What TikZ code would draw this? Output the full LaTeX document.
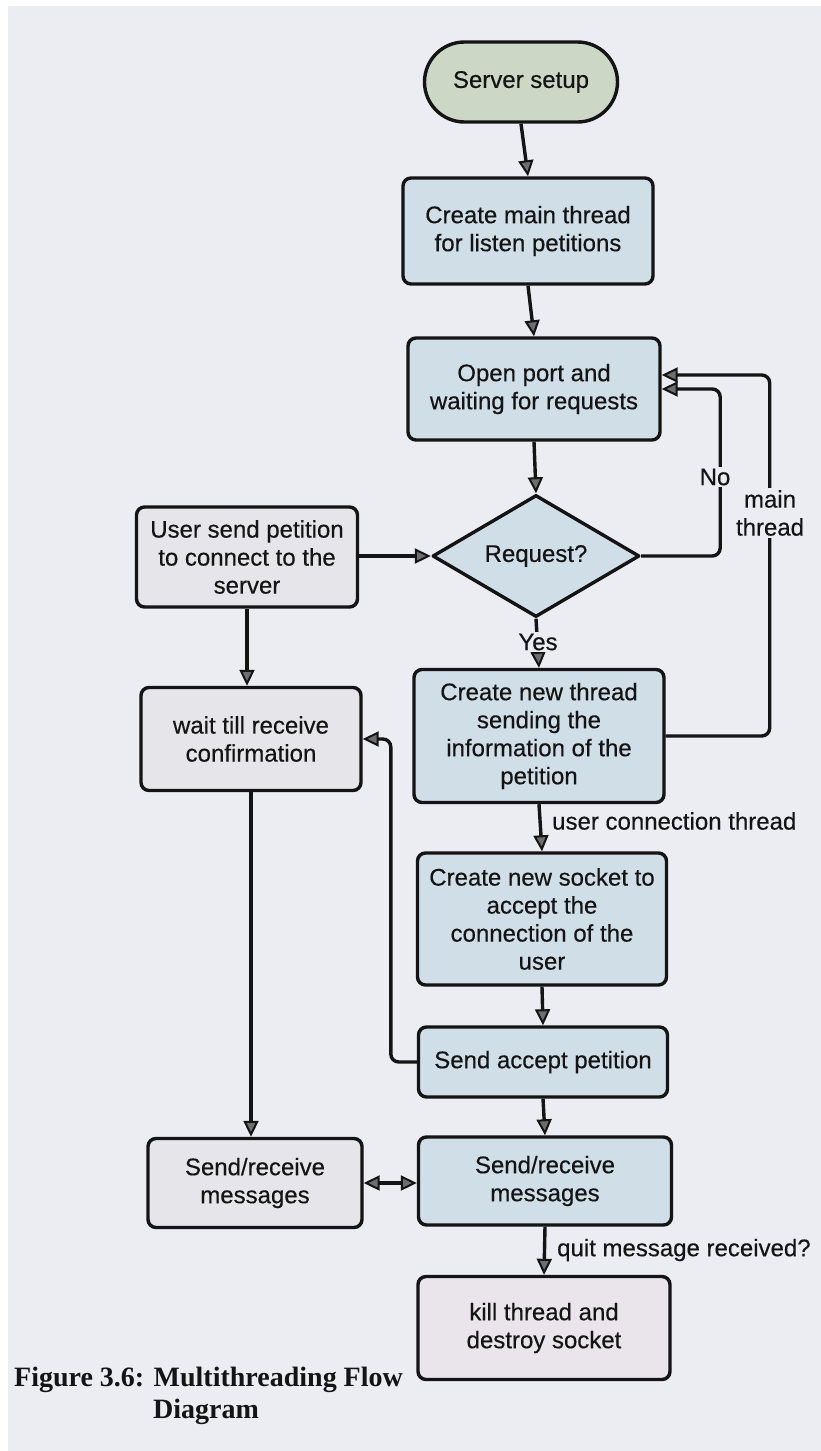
\documentclass[tikz,border=0pt]{standalone}
\usepackage{fontspec}
\setmainfont{Liberation Sans}
\newfontfamily\boxfont{Liberation Sans}[FakeBold=0.4]
\newfontfamily\capfont{Liberation Serif}
\usetikzlibrary{arrows.meta,shapes.geometric}

\definecolor{paper}{HTML}{ECEDF2}
\definecolor{ink}{HTML}{141414}
\definecolor{startfill}{HTML}{CDD7C6}
\definecolor{procfill}{HTML}{D0DEE8}
\definecolor{userfill}{HTML}{E6E6EA}
\definecolor{endfill}{HTML}{EAE5EA}
\definecolor{tipgray}{HTML}{6E6E6E}

\tikzset{
  txt/.style={font=\boxfont\fontsize{24}{28}\selectfont, text=ink},
  box/.style={txt, draw=ink, line width=3.4pt, rounded corners=8pt, align=center,
              inner sep=0pt, line join=round},
  startbox/.style={box, fill=startfill, rounded corners=40pt},
  procbox/.style={box, fill=procfill},
  userbox/.style={box, fill=userfill},
  endbox/.style={box, fill=endfill},
  decision/.style={txt, diamond, aspect=1.7, draw=ink, line width=3.4pt, fill=procfill,
                   inner sep=0pt, minimum width=207pt, minimum height=122pt, line join=round},
  flow/.style={draw=ink, line width=3.4pt, rounded corners=8pt, ->},
  tag/.style={txt, fill=paper, inner sep=2pt, align=center},
  sidetag/.style={txt, anchor=west, inner sep=0pt},
  >={Triangle[length=16pt, width=15pt, line width=2pt, fill=tipgray]}
}

\begin{document}
\begin{tikzpicture}[x=1pt, y=-1pt]
  % page and paper tone
  \useasboundingbox (0,0) rectangle (821,1451);
  \fill[white] (0,0) rectangle (821,1451);
  \fill[paper] (8,6) rectangle (821,1451);

  % server side
  \node[startbox, minimum width=193pt, minimum height=80pt] (setup) at (521,82) {Server setup};
  \node[procbox, minimum width=250pt, minimum height=106pt] (mainthr) at (528,231)
    {Create main thread\\for listen petitions};
  \node[procbox, minimum width=252pt, minimum height=102pt] (openport) at (534,389)
    {Open port and\\waiting for requests};
  \node[decision] (request) at (536,556) {Request?};
  \node[procbox, minimum width=250pt, minimum height=133pt] (newthr) at (539,736)
    {Create new thread\\sending the\\information of the\\petition};
  \node[procbox, minimum width=249pt, minimum height=132pt] (socket) at (542,919)
    {Create new socket to\\accept the\\connection of the\\user};
  \node[procbox, minimum width=249pt, minimum height=70pt] (accept) at (543,1062)
    {Send accept petition};
  \node[procbox, minimum width=253pt, minimum height=88pt] (srR) at (545,1181)
    {Send/receive\\messages};
  \node[endbox, minimum width=252pt, minimum height=103pt] (kill) at (544,1328)
    {kill thread and\\destroy socket};

  % user side
  \node[userbox, minimum width=221pt, minimum height=100pt] (user) at (247,557)
    {User send petition\\to connect to the\\server};
  \node[userbox, minimum width=220pt, minimum height=103pt] (wait) at (251,739)
    {wait till receive\\confirmation};
  \node[userbox, minimum width=214pt, minimum height=89pt] (srL) at (255,1183)
    {Send/receive\\messages};

  % connectors
  \draw[flow] (setup.south) -- (mainthr.north);
  \draw[flow] (mainthr.south) -- (openport.north);
  \draw[flow] (openport.south) -- (request.north);
  \draw[flow] (request.east) -- ++(79,0) |- (openport.east);
  \draw[flow] (newthr.east) -- ++(104,0) |- ([yshift=14pt]openport.east);
  \draw[flow] (user.east |- request.west) -- (request.west);
  \draw[flow] (user.south) -- (user.south |- wait.north);
  \draw[flow] (request.south) -- (newthr.north);
  \draw[flow] (newthr.south) -- (socket.north);
  \draw[flow] (socket.south) -- (accept.north);
  \draw[flow] (accept.west) -- ++(-26,0) |- (wait.east);
  \draw[flow] (accept.south) -- (srR.north);
  \draw[flow] (wait.south) -- (wait.south |- srL.north);
  \draw[flow, <->] (srL.east) -- (srL.east -| srR.west);
  \draw[flow] (srR.south) -- (kill.north);

  % connector labels
  \node[tag] (no) at (715,477) {No};
  \node[tag] (mt) at (770,513) {main\\thread};
  \node[tag] (yes) at (538,642) {Yes};
  \node[sidetag] (uct) at (552,821) {user connection thread};
  \node[sidetag] (quit) at (557,1250) {quit message received?};

  % caption
  \node[anchor=west, inner sep=0pt, text=ink] (cap1) at (14,1380)
    {\capfont\bfseries\fontsize{28}{32}\selectfont Figure 3.6: Multithreading Flow};
  \node[anchor=west, inner sep=0pt, text=ink] (cap2) at (153,1412)
    {\capfont\bfseries\fontsize{28}{32}\selectfont Diagram};
\end{tikzpicture}
\end{document}
